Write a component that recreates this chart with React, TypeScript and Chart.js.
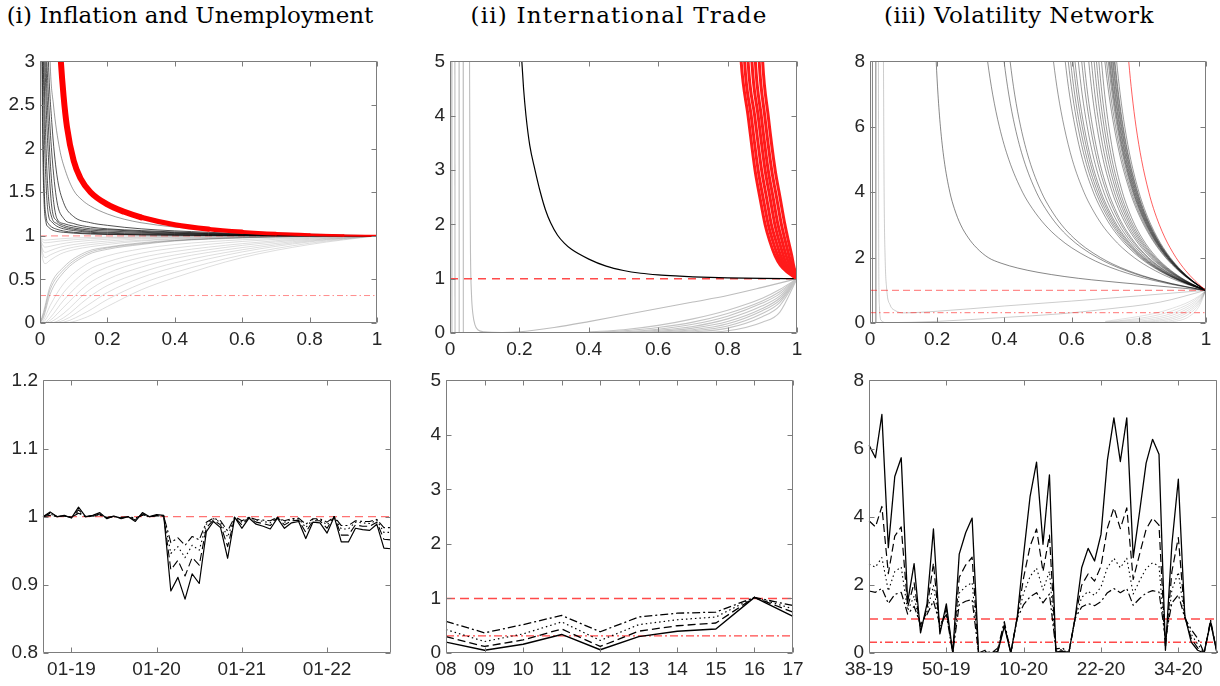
import React, { useEffect, useRef } from 'react';
import { Chart, registerables } from 'chart.js';

Chart.register(...registerables);

// ================= (i) Inflation and Unemployment — top =================
const INF_DIP_X = [0, 0.005, 0.015, 0.03, 0.06, 0.1, 0.2, 0.3, 0.5, 0.7, 1];
const INF_DIP = [
  [1.0, 0.97, 0.95, 0.955, 0.965, 0.975, 0.985, 0.99, 0.996, 0.999, 1],
  [1.0, 0.95, 0.92, 0.925, 0.94, 0.955, 0.975, 0.985, 0.994, 0.998, 1],
  [1.0, 0.92, 0.87, 0.88, 0.905, 0.93, 0.96, 0.975, 0.99, 0.997, 1],
  [1.0, 0.88, 0.81, 0.83, 0.87, 0.9, 0.94, 0.965, 0.985, 0.995, 1],
  [1.0, 0.85, 0.75, 0.78, 0.83, 0.87, 0.92, 0.95, 0.98, 0.993, 1],
  [1.0, 0.8, 0.68, 0.72, 0.79, 0.84, 0.9, 0.94, 0.975, 0.99, 1],
];
const INF_RISE_X = [0, 0.01, 0.03, 0.07, 0.14, 0.2, 0.3, 0.4, 0.6, 0.8, 1];
const INF_RISE_THICK = [
  [0, 0.12, 0.42, 0.64, 0.82, 0.87, 0.92, 0.95, 0.98, 0.995, 1],
  [0, 0.09, 0.38, 0.61, 0.8, 0.86, 0.91, 0.945, 0.978, 0.994, 1],
  [0, 0.06, 0.33, 0.58, 0.78, 0.845, 0.9, 0.94, 0.975, 0.993, 1],
];
const INF_RISE = [
  [0, 0.03, 0.2, 0.45, 0.68, 0.77, 0.85, 0.9, 0.955, 0.985, 1],
  [0, 0.01, 0.12, 0.35, 0.6, 0.7, 0.8, 0.86, 0.935, 0.978, 1],
  [0, 0, 0.06, 0.26, 0.52, 0.64, 0.75, 0.82, 0.91, 0.97, 1],
  [0, 0, 0.03, 0.18, 0.44, 0.57, 0.7, 0.78, 0.89, 0.96, 1],
  [0, 0, 0.01, 0.11, 0.36, 0.5, 0.64, 0.74, 0.865, 0.95, 1],
  [0, 0, 0, 0.06, 0.28, 0.43, 0.58, 0.69, 0.84, 0.94, 1],
  [0, 0, 0, 0.03, 0.2, 0.35, 0.52, 0.64, 0.815, 0.93, 1],
  [0, 0, 0, 0.01, 0.13, 0.27, 0.45, 0.58, 0.78, 0.915, 1],
  [0, 0, 0, 0, 0.07, 0.19, 0.38, 0.52, 0.75, 0.9, 1],
];
const INF_DARK_X = [0.005, 0.008, 0.012, 0.018, 0.025, 0.035, 0.05, 0.07, 0.1, 0.15, 0.2, 0.3, 0.5, 0.7, 1];
const INF_DARK = [
  [3.4, 2.1, 1.4, 1.15, 1.1, 1.07, 1.05, 1.04, 1.03, 1.02, 1.015, 1.01, 1.004, 1.001, 1],
  [4.2, 2.6, 1.6, 1.22, 1.14, 1.1, 1.075, 1.055, 1.04, 1.028, 1.02, 1.012, 1.005, 1.002, 1],
  [6, 3.8, 2.4, 1.6, 1.24, 1.16, 1.11, 1.08, 1.06, 1.04, 1.03, 1.02, 1.01, 1.004, 1],
  [7, 4.5, 3.0, 2.0, 1.45, 1.21, 1.14, 1.1, 1.075, 1.05, 1.04, 1.03, 1.015, 1.006, 1],
  [8, 5.5, 3.7, 2.55, 1.9, 1.33, 1.17, 1.12, 1.09, 1.065, 1.055, 1.04, 1.02, 1.008, 1],
  [10, 6.5, 4.4, 3.0, 2.25, 1.6, 1.2, 1.14, 1.11, 1.08, 1.07, 1.05, 1.025, 1.01, 1],
  [12, 7.5, 5.2, 3.4, 2.6, 1.95, 1.4, 1.2, 1.14, 1.1, 1.08, 1.06, 1.03, 1.012, 1],
  [14, 9, 6, 4.1, 3.0, 2.3, 1.7, 1.38, 1.22, 1.15, 1.12, 1.08, 1.04, 1.015, 1],
];
const INF_THIN = [[0.027, 3.5], [0.03, 3.0], [0.04, 2.5], [0.058, 2.0], [0.075, 1.75], [0.1, 1.52], [0.125, 1.41], [0.15, 1.34], [0.2, 1.25], [0.25, 1.19], [0.3, 1.15], [0.4, 1.1], [0.5, 1.07], [0.6, 1.05], [0.8, 1.02], [1, 1]];
const INF_RED_X = [0.05, 0.055, 0.06, 0.07, 0.08, 0.1, 0.12, 0.15, 0.2, 0.25, 0.3, 0.4, 0.5, 0.6, 0.7, 0.8, 0.9, 1.0];
const INF_RED = [4.2, 3.55, 3.12, 2.6, 2.25, 1.86, 1.66, 1.5, 1.36, 1.275, 1.212, 1.127, 1.077, 1.046, 1.025, 1.012, 1.004, 1];
// band thickness (px) of the red bundle, by x from which it applies
const INF_RED_BAND_FROM = [0, 0.3, 0.5, 0.6, 0.7, 0.8, 0.9];
const INF_RED_BAND_PX = [6, 5.2, 4.4, 3.7, 3.1, 2.6, 2.1];

// ================= (ii) International Trade — top =================
const TRADE_VERT_X = [0.005, 0.014, 0.026, 0.038];
const TRADE_BEND = [[0.056, 5.5], [0.0575, 3], [0.059, 1.5], [0.062, 0.7], [0.066, 0.35], [0.072, 0.15], [0.08, 0.06], [0.1, 0.02], [0.15, 0.01], [0.2, 0.02], [0.3, 0.1], [0.4, 0.21], [0.5, 0.33], [0.6, 0.45], [0.7, 0.57], [0.8, 0.69], [0.9, 0.84], [1, 1]];
const TRADE_BLACK = [[0.203, 5.5], [0.207, 5], [0.212, 4.5], [0.219, 4], [0.23, 3.45], [0.245, 3], [0.26, 2.6], [0.275, 2.27], [0.29, 2.03], [0.31, 1.8], [0.33, 1.65], [0.35, 1.54], [0.4, 1.36], [0.45, 1.23], [0.5, 1.15], [0.55, 1.1], [0.6, 1.07], [0.65, 1.05], [0.7, 1.035], [0.8, 1.016], [0.9, 1.005], [1, 1]];
const TRADE_FAN_X = [0.4, 0.5, 0.6, 0.7, 0.8, 0.9, 0.95, 1];
const TRADE_FAN = [
  [0.02, 0.06, 0.14, 0.26, 0.42, 0.64, 0.8, 1],
  [0.01, 0.04, 0.1, 0.2, 0.36, 0.59, 0.76, 1],
  [0.005, 0.02, 0.07, 0.16, 0.31, 0.55, 0.72, 1],
  [0, 0.01, 0.05, 0.12, 0.26, 0.5, 0.68, 1],
  [0, 0.005, 0.03, 0.09, 0.21, 0.45, 0.64, 1],
  [0, 0, 0.02, 0.06, 0.17, 0.41, 0.6, 1],
  [0, 0, 0.01, 0.04, 0.13, 0.36, 0.56, 1],
  [0, 0, 0, 0.02, 0.09, 0.3, 0.5, 1],
  [0, 0, 0, 0.005, 0.04, 0.2, 0.38, 1],
];
const TRADE_RED_Y = [5.5, 5, 4, 3, 2.5, 2, 1.7, 1.42, 1.25, 1.12, 1];
const TRADE_RED_X = [
  [0.835, 0.839, 0.859, 0.879, 0.893, 0.908, 0.921, 0.937, 0.952, 0.972, 1],
  [0.846, 0.849, 0.868, 0.888, 0.902, 0.917, 0.93, 0.945, 0.959, 0.976, 1],
  [0.856, 0.859, 0.878, 0.898, 0.912, 0.926, 0.939, 0.953, 0.965, 0.98, 1],
  [0.867, 0.87, 0.888, 0.908, 0.922, 0.936, 0.948, 0.961, 0.971, 0.984, 1],
  [0.877, 0.88, 0.897, 0.917, 0.931, 0.945, 0.957, 0.969, 0.978, 0.988, 1],
  [0.888, 0.891, 0.907, 0.927, 0.941, 0.955, 0.966, 0.977, 0.984, 0.991, 1],
  [0.898, 0.901, 0.917, 0.937, 0.951, 0.965, 0.975, 0.985, 0.99, 0.995, 1],
];

// ================= (iii) Volatility Network — top =================
const VOLN_VERT_X = [0.007, 0.017];
const VOLN_LIGHT = [
  [[0.038, 9], [0.04, 8], [0.042, 4], [0.045, 2], [0.05, 1.0], [0.06, 0.55], [0.075, 0.38], [0.1, 0.31], [0.2, 0.36], [0.4, 0.52], [0.6, 0.67], [0.8, 0.83], [1, 1]],
  [[0.025, 9], [0.026, 2], [0.028, 0.5], [0.033, 0.08], [0.05, 0.01], [0.2, 0.05], [0.4, 0.17], [0.566, 0.28], [0.7, 0.42], [0.864, 0.64], [1, 1]],
];
const VOLN_FAN_X = [0.7, 0.8, 0.85, 0.9, 0.95, 0.98, 1];
const VOLN_FAN = [
  [0.05, 0.2, 0.3, 0.45, 0.65, 0.83, 1],
  [0.03, 0.14, 0.23, 0.37, 0.59, 0.8, 1],
  [0.02, 0.1, 0.17, 0.3, 0.53, 0.76, 1],
  [0.01, 0.06, 0.12, 0.24, 0.47, 0.72, 1],
  [0, 0.03, 0.08, 0.18, 0.41, 0.68, 1],
  [0, 0.015, 0.05, 0.13, 0.35, 0.64, 1],
  [0, 0.005, 0.025, 0.08, 0.28, 0.59, 1],
  [0, 0, 0.01, 0.04, 0.2, 0.52, 1],
];
const VOLN_FIRST = [[0.193, 9], [0.197, 8], [0.2023, 7], [0.2096, 6], [0.2204, 5], [0.2376, 4], [0.251, 3.5], [0.27, 3], [0.293, 2.6], [0.317, 2.3], [0.352, 2.0], [0.39, 1.83], [0.44, 1.68], [0.5, 1.55], [0.58, 1.42], [0.66, 1.32], [0.75, 1.23], [0.86, 1.13], [0.93, 1.065], [1, 1]];
// curve family: y levels and fractional progress from the start (y = 8) to (1, 1)
const VOLN_Y = [9, 8, 7, 6, 5, 4, 3.5, 3, 2.6, 2.3, 2, 1.8, 1.6, 1.45, 1.3, 1.2, 1.1, 1.04, 1];
const VOLN_SHAPE_SHARP = [-0.018, 0, 0.023, 0.054, 0.097, 0.16, 0.205, 0.263, 0.325, 0.385, 0.462, 0.525, 0.604, 0.675, 0.761, 0.829, 0.908, 0.961, 1];
const VOLN_SHAPE_MID = [-0.024, 0, 0.03, 0.07, 0.123, 0.2, 0.253, 0.319, 0.388, 0.451, 0.529, 0.592, 0.667, 0.732, 0.807, 0.864, 0.928, 0.97, 1];
const VOLN_SHAPE_FLAT = [-0.032, 0, 0.04, 0.091, 0.158, 0.25, 0.31, 0.385, 0.458, 0.523, 0.6, 0.66, 0.727, 0.784, 0.848, 0.895, 0.945, 0.978, 1];
const VOLN_SHAPE_RED = [-0.034, 0, 0.042, 0.095, 0.165, 0.26, 0.321, 0.397, 0.47, 0.536, 0.612, 0.671, 0.737, 0.793, 0.855, 0.899, 0.948, 0.979, 1];
const VOLN_STARTS_SHARP = [0.35, 0.399, 0.417];
const VOLN_STARTS_MID = [0.546, 0.581, 0.59, 0.597, 0.604, 0.61, 0.62, 0.63, 0.637, 0.651, 0.659, 0.667, 0.674, 0.681, 0.689];
const VOLN_STARTS_FLAT = [0.699, 0.704, 0.709, 0.712, 0.714, 0.717, 0.719, 0.722, 0.724, 0.727, 0.729, 0.734];
const VOLN_RED_START = 0.77;

// ================= reference levels =================
const REF_UPPER = 1;
const REF_LOWER = 0.315;

// ================= (i) bottom: monthly =================
const MONTHS = [
  '09-18', '10-18', '11-18', '12-18',
  '01-19', '02-19', '03-19', '04-19', '05-19', '06-19', '07-19', '08-19', '09-19', '10-19', '11-19', '12-19',
  '01-20', '02-20', '03-20', '04-20', '05-20', '06-20', '07-20', '08-20', '09-20', '10-20', '11-20', '12-20',
  '01-21', '02-21', '03-21', '04-21', '05-21', '06-21', '07-21', '08-21', '09-21', '10-21', '11-21', '12-21',
  '01-22', '02-22', '03-22', '04-22', '05-22', '06-22', '07-22', '08-22', '09-22', '10-22',
];
const MONTH_TICKS = ['01-19', '01-20', '01-21', '01-22'];
const INF_SOLID = [1.0, 1.007, 1.0, 1.002, 0.998, 1.014, 1.0, 1.002, 1.006, 0.997, 1.001, 0.997, 1.0, 0.993, 1.006, 1.0, 1.003, 1.002, 0.891, 0.911, 0.879, 0.916, 0.902, 0.978, 0.993, 0.984, 0.939, 0.999, 0.983, 0.998, 0.989, 0.986, 0.982, 0.998, 0.983, 0.991, 0.993, 0.968, 0.992, 0.991, 0.976, 1.0, 0.963, 0.963, 0.983, 0.981, 0.98, 0.989, 0.954, 0.953];
const INF_DASHED = [1.0, 1.005, 1.0, 1.001, 0.999, 1.01, 1.0, 1.001, 1.004, 0.998, 1.001, 0.998, 1.0, 0.995, 1.004, 1.0, 1.002, 1.001, 0.922, 0.936, 0.913, 0.94, 0.929, 0.984, 0.995, 0.988, 0.956, 0.999, 0.988, 0.999, 0.992, 0.99, 0.987, 0.999, 0.988, 0.994, 0.995, 0.977, 0.994, 0.994, 0.983, 1.0, 0.973, 0.973, 0.988, 0.986, 0.986, 0.992, 0.967, 0.966];
const INF_DOTTED = [1.0, 1.004, 1.0, 1.001, 0.999, 1.007, 1.0, 1.001, 1.003, 0.998, 1.0, 0.998, 1.0, 0.997, 1.003, 1.0, 1.002, 1.001, 0.946, 0.956, 0.94, 0.958, 0.951, 0.989, 0.997, 0.992, 0.97, 1.0, 0.992, 0.999, 0.995, 0.993, 0.991, 0.999, 0.992, 0.996, 0.997, 0.984, 0.996, 0.996, 0.988, 1.0, 0.982, 0.982, 0.992, 0.991, 0.99, 0.995, 0.977, 0.977];
const INF_DASHDOT = [1.0, 1.002, 1.0, 1.001, 0.999, 1.005, 1.0, 1.001, 1.002, 0.999, 1.0, 0.999, 1.0, 0.998, 1.002, 1.0, 1.001, 1.001, 0.962, 0.969, 0.958, 0.971, 0.966, 0.992, 0.998, 0.994, 0.979, 1.0, 0.994, 0.999, 0.996, 0.995, 0.994, 0.999, 0.994, 0.997, 0.998, 0.989, 0.997, 0.997, 0.992, 1.0, 0.987, 0.987, 0.994, 0.993, 0.993, 0.996, 0.984, 0.984];

// ================= (ii) bottom: yearly =================
const YEARS = ['08', '09', '10', '11', '12', '13', '14', '15', '16', '17'];
const TRADE_SOLID = [0.2, 0.05, 0.16, 0.34, 0.06, 0.3, 0.4, 0.44, 1.02, 0.67];
const TRADE_DASHED = [0.3, 0.12, 0.24, 0.44, 0.12, 0.4, 0.5, 0.55, 1.02, 0.75];
const TRADE_DOTTED = [0.43, 0.21, 0.35, 0.57, 0.23, 0.52, 0.61, 0.66, 1.02, 0.81];
const TRADE_DASHDOT = [0.58, 0.37, 0.52, 0.69, 0.39, 0.66, 0.73, 0.75, 1.02, 0.87];

// ================= (iii) bottom: weekly =================
const WEEKS = [
  '38-19', '39-19', '40-19', '41-19', '42-19', '43-19', '44-19', '45-19', '46-19', '47-19', '48-19', '49-19', '50-19', '51-19', '52-19',
  '01-20', '02-20', '03-20', '04-20', '05-20', '06-20', '07-20', '08-20', '09-20', '10-20', '11-20', '12-20', '13-20', '14-20', '15-20',
  '16-20', '17-20', '18-20', '19-20', '20-20', '21-20', '22-20', '23-20', '24-20', '25-20', '26-20', '27-20', '28-20', '29-20', '30-20',
  '31-20', '32-20', '33-20', '34-20', '35-20', '36-20', '37-20', '38-20', '39-20', '40-20',
];
const WEEK_TICKS = ['38-19', '50-19', '10-20', '22-20', '34-20'];
const VOL_SOLID = [6.1, 5.73, 7.0, 3.09, 5.18, 5.73, 1.49, 2.62, 0.59, 1.44, 3.64, 0.56, 1.44, 0.0, 2.9, 3.53, 3.96, 0.0, 0.02, 0.0, 0.05, 0.78, 0.0, 1.05, 2.9, 4.6, 5.6, 3.19, 5.23, 0.03, 0.05, 0.0, 1.05, 2.5, 3.07, 2.7, 3.48, 5.67, 6.9, 5.62, 6.9, 2.8, 4.16, 5.57, 6.27, 5.83, 0.08, 3.19, 5.1, 1.1, 0.32, 0.08, 0.0, 0.9, 0.0];
const VOL_DASHED = [3.88, 3.7, 4.3, 2.33, 3.43, 3.7, 1.35, 2.06, 0.67, 1.31, 2.64, 0.65, 1.31, 0.0, 2.22, 2.58, 2.81, 0.0, 0.03, 0.0, 0.06, 0.83, 0.0, 1.04, 2.22, 3.14, 3.64, 2.39, 3.46, 0.05, 0.06, 0.0, 1.04, 1.99, 2.32, 2.11, 2.55, 3.67, 4.26, 3.65, 4.26, 2.16, 2.91, 3.63, 3.96, 3.75, 0.15, 2.39, 3.39, 1.07, 0.43, 0.15, 0.0, 0.92, 0.0];
const VOL_DOTTED = [2.61, 2.52, 2.8, 1.82, 2.39, 2.52, 1.24, 1.67, 0.76, 1.21, 1.98, 0.74, 1.21, 0.0, 1.76, 1.95, 2.07, 0.0, 0.05, 0.0, 0.1, 0.88, 0.0, 1.03, 1.76, 2.25, 2.49, 1.85, 2.4, 0.08, 0.1, 0.0, 1.03, 1.63, 1.81, 1.69, 1.94, 2.51, 2.78, 2.5, 2.78, 1.73, 2.13, 2.48, 2.65, 2.55, 0.26, 1.85, 2.37, 1.05, 0.55, 0.26, 0.0, 0.95, 0.0];
const VOL_DASHDOT = [1.82, 1.78, 1.9, 1.45, 1.72, 1.78, 1.14, 1.37, 0.84, 1.13, 1.53, 0.83, 1.13, 0.0, 1.42, 1.52, 1.57, 0.0, 0.08, 0.0, 0.15, 0.92, 0.0, 1.02, 1.42, 1.65, 1.77, 1.47, 1.73, 0.12, 0.15, 0.0, 1.02, 1.35, 1.45, 1.39, 1.51, 1.77, 1.89, 1.77, 1.89, 1.4, 1.6, 1.76, 1.83, 1.79, 0.43, 1.47, 1.71, 1.03, 0.69, 0.43, 0.0, 0.97, 0.0];

// ================= styling & helpers =================
const AXIS_COLOR = '#7d7d7d';
const LABEL_COLOR = '#262626';
const TICK_FONT = { family: '"Liberation Sans", Arial, Helvetica, sans-serif', size: 19 };
const PAD_L = 60;
const PAD_T = 14;
const PAD_R = 24;
const PAD_B = 38;

const DASH = [8, 4];
const DOT = [1.5, 3];
const DASHDOT = [8, 3, 2, 3];

type XY = { x: number | string; y: number };
const fromGrid = (xs: number[], ys: number[]): XY[] => xs.map((x, i) => ({ x, y: ys[i] }));
const fromPairs = (pts: number[][]): XY[] => pts.map(([x, y]) => ({ x, y }));
const fromShape = (start: number, shape: number[], ys: number[]): XY[] =>
  shape.map((t, i) => ({ x: start + t * (1 - start), y: ys[i] }));

function line(data: any[], color: string, width: number, dash: number[] = [], smooth = true) {
  return {
    data,
    borderColor: color,
    backgroundColor: color,
    borderWidth: width,
    borderDash: dash,
    pointRadius: 0,
    pointHoverRadius: 0,
    fill: false,
    cubicInterpolationMode: smooth ? 'monotone' : 'default',
    tension: 0,
  };
}

const boxPlugin = {
  id: 'matlabBox',
  afterDatasetsDraw(chart: any) {
    const { ctx, chartArea: a } = chart;
    const xs = chart.scales.x;
    const ys = chart.scales.y;
    ctx.save();
    ctx.strokeStyle = AXIS_COLOR;
    ctx.lineWidth = 1;
    ctx.setLineDash([]);
    const L = Math.round(a.left) + 0.5;
    const R = Math.round(a.right) - 0.5;
    const T = Math.round(a.top) + 0.5;
    const B = Math.round(a.bottom) - 0.5;
    const tl = 5;
    ctx.beginPath();
    ctx.rect(L, T, R - L, B - T);
    ys.ticks.forEach((_t: any, i: number) => {
      const p = Math.round(ys.getPixelForTick(i)) + 0.5;
      ctx.moveTo(L, p); ctx.lineTo(L + tl, p);
      ctx.moveTo(R, p); ctx.lineTo(R - tl, p);
    });
    xs.ticks.forEach((_t: any, i: number) => {
      const p = Math.round(xs.getPixelForTick(i)) + 0.5;
      ctx.moveTo(p, B); ctx.lineTo(p, B - tl);
      ctx.moveTo(p, T); ctx.lineTo(p, T + tl);
    });
    ctx.stroke();
    ctx.restore();
  },
};

const numFmt = (v: any) => String(Math.round(Number(v) * 1000) / 1000);

function scaleBase(extra: any) {
  return {
    grid: { display: false, drawTicks: false },
    border: { display: false },
    ...extra,
    ticks: { color: LABEL_COLOR, font: TICK_FONT, padding: 5, autoSkip: false, maxRotation: 0, minRotation: 0, ...(extra.ticks || {}) },
  };
}

function makeConfig(datasetsBottomFirst: any[], xScale: any, yScale: any, labels?: string[]) {
  const datasets = datasetsBottomFirst.slice().reverse();
  return {
    type: 'line',
    data: labels ? { labels, datasets } : { datasets },
    options: {
      responsive: false,
      animation: false,
      events: [],
      layout: { padding: { left: 0, top: PAD_T, right: PAD_R, bottom: 0 }, autoPadding: false },
      plugins: { legend: { display: false }, tooltip: { enabled: false }, title: { display: false } },
      elements: { point: { radius: 0 }, line: { capBezierPoints: false, borderJoinStyle: 'round', borderCapStyle: 'butt' } },
      scales: {
        x: { ...scaleBase(xScale), afterFit: (s: any) => { s.height = PAD_B; } },
        y: { ...scaleBase(yScale), afterFit: (s: any) => { s.width = PAD_L; } },
      },
    },
    plugins: [boxPlugin],
  };
}

const unitX = { type: 'linear', min: 0, max: 1, ticks: { stepSize: 0.2, callback: numFmt } };
const hLine = (v: number, color: string, width: number, dash: number[]) =>
  line([{ x: 0, y: v }, { x: 1, y: v }], color, width, dash, false);
const catLine = (cats: string[], v: number, color: string, width: number, dash: number[]) =>
  line([{ x: cats[0], y: v }, { x: cats[cats.length - 1], y: v }], color, width, dash, false);
const catX = (cats: string[], shown: string[]) => ({
  type: 'category',
  afterBuildTicks: (axis: any) => {
    axis.ticks = axis.ticks.filter((t: any) => shown.includes(cats[t.value]));
  },
});
const yAxis = (min: number, max: number, step: number) => ({ min, max, ticks: { stepSize: step, callback: numFmt } });

const redBandWidth = (x: number) => {
  let w = INF_RED_BAND_PX[0];
  INF_RED_BAND_FROM.forEach((from, i) => { if (x >= from) w = INF_RED_BAND_PX[i]; });
  return w;
};

// ================= panel configs =================
function cfgInfTop() {
  const ds: any[] = [];
  INF_RISE.forEach((ys) => ds.push(line(fromGrid(INF_RISE_X, ys), 'rgba(0,0,0,0.17)', 0.8)));
  INF_DIP.forEach((ys) => ds.push(line(fromGrid(INF_DIP_X, ys), 'rgba(0,0,0,0.17)', 0.8)));
  INF_RISE_THICK.forEach((ys) => ds.push(line(fromGrid(INF_RISE_X, ys), 'rgba(0,0,0,0.22)', 1)));
  ds.push(hLine(REF_LOWER, 'rgba(255,0,0,0.45)', 1, [6, 3, 1.5, 3]));
  ds.push(hLine(REF_UPPER, 'rgba(255,0,0,0.4)', 1.3, [7, 4]));
  ds.push(line(fromPairs(INF_THIN), 'rgba(0,0,0,0.5)', 0.8));
  INF_DARK.forEach((ys) => ds.push(line(fromGrid(INF_DARK_X, ys), 'rgba(0,0,0,0.68)', 1)));
  const red: any = line(fromGrid(INF_RED_X, INF_RED), '#ff0000', 6);
  red.borderCapStyle = 'round';
  red.segment = { borderWidth: (c: any) => redBandWidth(c.p0.parsed.x) };
  ds.push(red);
  return makeConfig(ds, unitX, yAxis(0, 3, 0.5));
}

function cfgTradeTop() {
  const ds: any[] = [];
  TRADE_VERT_X.forEach((x) => ds.push(line([{ x, y: 5.5 }, { x: x + 0.0005, y: 0 }], '#c4c4c4', 1.2, [], false)));
  TRADE_FAN.forEach((ys) => ds.push(line(fromGrid(TRADE_FAN_X, ys), '#c4c4c4', 1.1)));
  ds.push(line(fromPairs(TRADE_BEND), '#bdbdbd', 1.1));
  ds.push(hLine(REF_UPPER, '#ff4a4a', 1.6, [8, 6]));
  ds.push(line(fromPairs(TRADE_BLACK), '#000000', 1.2));
  TRADE_RED_X.forEach((xs) => ds.push(line(xs.map((x, i) => ({ x, y: TRADE_RED_Y[i] })), '#ff1a1a', 3)));
  return makeConfig(ds, unitX, yAxis(0, 5, 1));
}

function cfgVolTop() {
  const ds: any[] = [];
  VOLN_VERT_X.forEach((x) => ds.push(line([{ x, y: 9 }, { x: x + 0.0005, y: 0 }], 'rgba(0,0,0,0.2)', 1, [], false)));
  VOLN_FAN.forEach((ys) => ds.push(line(fromGrid(VOLN_FAN_X, ys), 'rgba(0,0,0,0.15)', 0.8)));
  VOLN_LIGHT.forEach((p) => ds.push(line(fromPairs(p), 'rgba(0,0,0,0.25)', 0.8)));
  ds.push(hLine(REF_UPPER, 'rgba(255,0,0,0.45)', 1.2, [7, 4]));
  ds.push(hLine(REF_LOWER, 'rgba(255,0,0,0.55)', 1, [6, 3, 1.5, 3]));
  ds.push(line(fromPairs(VOLN_FIRST), 'rgba(0,0,0,0.6)', 0.8));
  VOLN_STARTS_SHARP.forEach((s) => ds.push(line(fromShape(s, VOLN_SHAPE_SHARP, VOLN_Y), 'rgba(0,0,0,0.55)', 0.8)));
  VOLN_STARTS_MID.forEach((s) => ds.push(line(fromShape(s, VOLN_SHAPE_MID, VOLN_Y), 'rgba(0,0,0,0.5)', 0.8)));
  VOLN_STARTS_FLAT.forEach((s) => ds.push(line(fromShape(s, VOLN_SHAPE_FLAT, VOLN_Y), 'rgba(0,0,0,0.5)', 0.8)));
  ds.push(line(fromShape(VOLN_RED_START, VOLN_SHAPE_RED, VOLN_Y), 'rgba(255,0,0,0.7)', 0.9));
  return makeConfig(ds, unitX, yAxis(0, 8, 2));
}

function cfgInfBottom() {
  const ds: any[] = [
    catLine(MONTHS, REF_UPPER, 'rgba(255,0,0,0.55)', 1.3, [8, 5]),
    line(INF_DASHDOT, '#000', 1.1, DASHDOT, false),
    line(INF_DOTTED, '#000', 1.1, DOT, false),
    line(INF_DASHED, '#000', 1.1, DASH, false),
    line(INF_SOLID, '#000', 1.2, [], false),
  ];
  return makeConfig(ds, catX(MONTHS, MONTH_TICKS), yAxis(0.8, 1.2, 0.1), MONTHS);
}

function cfgTradeBottom() {
  const ds: any[] = [
    catLine(YEARS, REF_UPPER, '#ff4a4a', 1.6, [9, 5]),
    catLine(YEARS, REF_LOWER, '#ff4a4a', 1.3, [8, 3, 2, 3]),
    line(TRADE_DASHDOT, '#000', 1.3, DASHDOT, false),
    line(TRADE_DOTTED, '#000', 1.2, DOT, false),
    line(TRADE_DASHED, '#000', 1.3, DASH, false),
    line(TRADE_SOLID, '#000', 1.4, [], false),
  ];
  return makeConfig(ds, catX(YEARS, YEARS), yAxis(0, 5, 1), YEARS);
}

function cfgVolBottom() {
  const ds: any[] = [
    catLine(WEEKS, REF_UPPER, '#ff4a4a', 1.4, [9, 5]),
    catLine(WEEKS, REF_LOWER, '#ff4a4a', 1.3, [8, 3, 2, 3]),
    line(VOL_DASHDOT, '#000', 1.2, DASHDOT, false),
    line(VOL_DOTTED, '#000', 1.1, DOT, false),
    line(VOL_DASHED, '#000', 1.2, DASH, false),
    line(VOL_SOLID, '#000', 1.3, [], false),
  ];
  return makeConfig(ds, catX(WEEKS, WEEK_TICKS), yAxis(0, 8, 2), WEEKS);
}

type Box = { left: number; top: number; right: number; bottom: number };

function Panel({ box, build }: { box: Box; build: () => any }) {
  const ref = useRef<HTMLCanvasElement>(null);
  const w = box.right - box.left + PAD_L + PAD_R;
  const h = box.bottom - box.top + PAD_T + PAD_B;
  useEffect(() => {
    const chart = new Chart(ref.current as HTMLCanvasElement, build() as any);
    return () => chart.destroy();
  }, []);
  return (
    <canvas
      ref={ref}
      width={w}
      height={h}
      style={{ position: 'absolute', left: box.left - PAD_L, top: box.top - PAD_T, width: w, height: h }}
    />
  );
}

const TITLE_STYLE: React.CSSProperties = {
  position: 'absolute',
  top: 1,
  width: 500,
  textAlign: 'center',
  fontFamily: '"DejaVu Serif", "Liberation Serif", serif',
  fontSize: 23,
  lineHeight: '28px',
  color: '#000',
  whiteSpace: 'nowrap',
};

export default function App() {
  return (
    <div style={{ position: 'absolute', left: 0, top: 0, width: 1220, height: 686, overflow: 'hidden', background: '#fff' }}>
      <div style={{ ...TITLE_STYLE, left: 190 - 250 }}>(i) Inflation and Unemployment</div>
      <div style={{ ...TITLE_STYLE, left: 619 - 250, letterSpacing: '1.2px' }}>(ii) International Trade</div>
      <div style={{ ...TITLE_STYLE, left: 1019 - 250, letterSpacing: '0.45px' }}>(iii) Volatility Network</div>
      <Panel box={{ left: 40, top: 59, right: 377, bottom: 323 }} build={cfgInfTop} />
      <Panel box={{ left: 450, top: 59, right: 797, bottom: 333 }} build={cfgTradeTop} />
      <Panel box={{ left: 870, top: 59, right: 1206, bottom: 323 }} build={cfgVolTop} />
      <Panel box={{ left: 43, top: 378, right: 391, bottom: 653 }} build={cfgInfBottom} />
      <Panel box={{ left: 446, top: 378, right: 793, bottom: 653 }} build={cfgTradeBottom} />
      <Panel box={{ left: 869, top: 378, right: 1217, bottom: 653 }} build={cfgVolBottom} />
    </div>
  );
}
